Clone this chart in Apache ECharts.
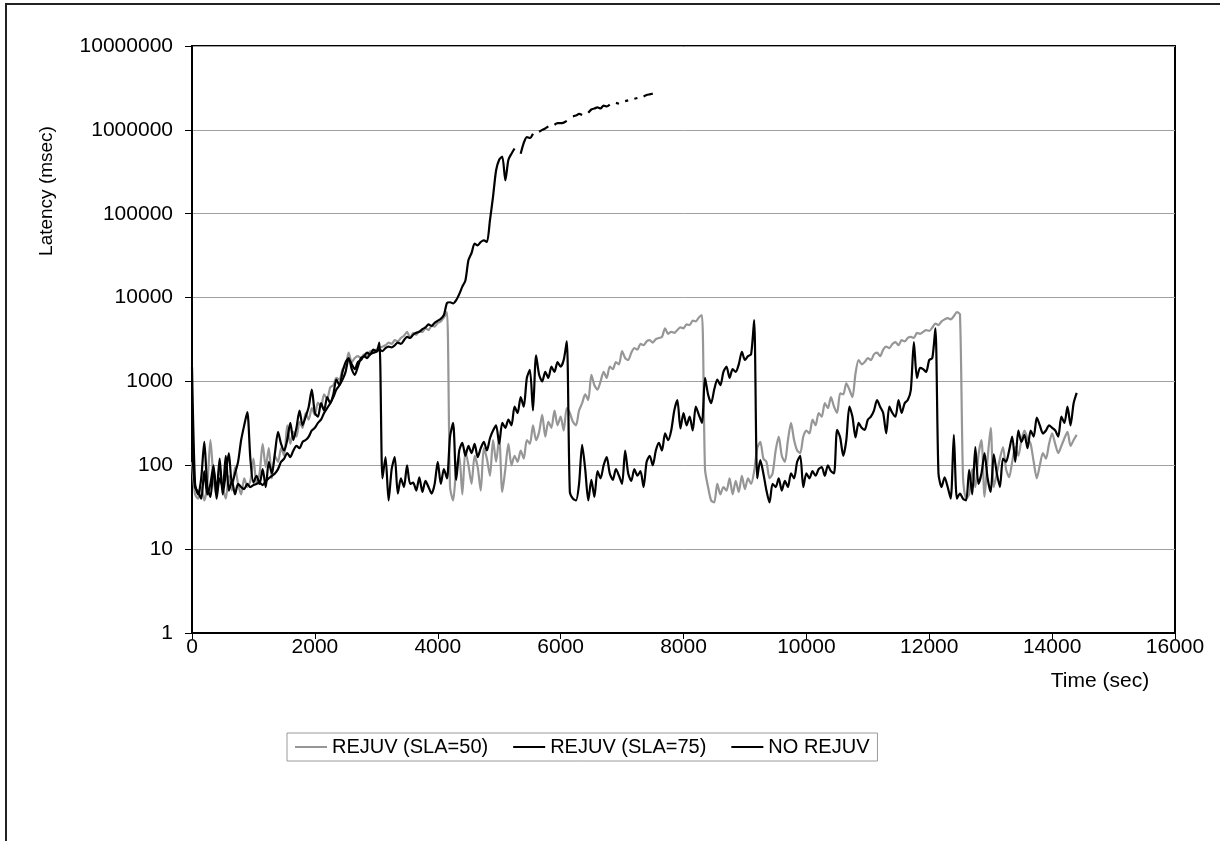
<!DOCTYPE html>
<html>
<head>
<meta charset="utf-8">
<title>Latency (msec)</title>
<script src="https://cdn.jsdelivr.net/npm/echarts@6/dist/echarts.min.js"></script>
<style>
  html, body { margin: 0; padding: 0; background: #fff; }
  #chart { width: 1220px; height: 841px; }
</style>
</head>
<body>
<div id="chart"></div>
<script>
// Latency samples, one value every SAMPLE_STEP seconds starting at t = 0.
const SAMPLE_STEP = 50;

const seriesNames = ['REJUV (SLA=50)', 'REJUV (SLA=75)', 'NO REJUV'];

const xTicks = [0, 2000, 4000, 6000, 8000, 10000, 12000, 14000, 16000];
const yTicks = [1, 10, 100, 1000, 10000, 100000, 1000000, 10000000];

const rejuvSla50 = [
  110, 45, 40, 55, 38, 60, 200, 70, 45, 90,
  55, 40, 75, 50, 95, 60, 45, 70, 55, 65,
  120, 60, 80, 180, 95, 160, 70, 130, 110, 160,
  130, 300, 180, 250, 220, 330, 280, 420, 350, 480,
  400, 560, 500, 700, 620, 850, 900, 1100, 1050, 1400,
  1500, 2200, 1700, 1900, 2000, 1900, 2100, 2000, 2300, 2200,
  2400, 2500, 2600, 2700, 2900, 2800, 3100, 3000, 3300, 3500,
  3900, 3300, 3800, 3600, 4000, 3900, 4300, 4100, 4600, 4500,
  5000, 5200, 5800, 6700, 55, 38, 90, 130, 45, 150,
  100, 60, 130, 95, 50, 160, 120, 75, 200, 110,
  220, 48, 90, 180, 100, 130, 110, 150, 120, 200,
  180, 300, 200, 250, 400, 220, 330, 280, 450, 300,
  380, 260, 480, 420, 330, 300, 450, 550, 700, 600,
  1200, 900, 800, 1000, 1300, 1100, 1500, 1400, 1700, 1600,
  2300, 1900, 1800, 2200, 2500, 2400, 2800, 2700, 3000, 3100,
  2900, 3200, 3300, 3400, 4300, 3700, 3900, 3800, 4100, 4400,
  4300, 4800, 4700, 5300, 5200, 5800, 6200, 90, 55, 38,
  36, 60, 45, 55, 50, 70, 45, 65, 48, 75,
  52, 70, 60, 85, 160, 190, 120, 110, 70, 80,
  150, 220, 130, 110, 200, 320, 200, 150, 140, 220,
  260, 240, 350, 300, 420, 380, 550, 480, 650, 500,
  420, 720, 700, 950, 800, 650, 1250, 1800, 1600, 1700,
  1900, 1800, 2100, 2200, 2000, 2400, 2600, 2500, 2800, 2950,
  2700, 3100, 3000, 3300, 3400, 3300, 3800, 3700, 3900, 4100,
  4000, 4400, 4900, 4700, 5200, 5500, 5700, 5500, 6000, 6700,
  6300, 70, 40, 45, 90, 55, 130, 200, 42, 120,
  280, 55, 80, 120, 165, 90, 72, 110, 165, 130,
  200, 260, 210, 180, 110, 70, 100, 140, 120, 180,
  240, 180, 140, 170, 210, 250, 170, 200, 230
];

const rejuvSla75 = [
  1500, 60, 45, 70, 190, 55, 42, 90, 50, 120,
  45, 80, 140, 60, 80, 110, 200, 300, 430, 120,
  62, 75, 60, 90, 55, 110, 80, 140, 250, 180,
  150, 200, 320, 200, 280, 450, 300, 380, 500, 800,
  420, 380, 550, 450, 650, 550, 700, 1050, 900, 1300,
  1700, 1900, 1400, 1200, 1500, 1900, 2000, 2200, 2100, 2400,
  2300, 2900, 70, 125, 38, 90, 125, 46, 70, 55,
  100, 60, 62, 50, 72, 48, 65, 55, 46, 60,
  110, 60, 90, 70, 220, 320, 67, 150, 185, 130,
  170, 140, 180, 125, 160, 190, 150, 210, 260, 300,
  180, 320, 280, 350, 300, 500, 420, 650, 500, 1100,
  1370, 450, 2050, 1200, 1000, 1300, 1100, 1500, 1300, 1700,
  1500, 1800, 3000, 48, 40, 38, 60, 175, 90, 38,
  67, 42, 85, 70, 100, 125, 80, 67, 90, 75,
  60, 150, 80, 65, 90, 75, 85, 55, 110, 130,
  100, 150, 185, 150, 240, 200, 260, 450, 600, 275,
  420, 300, 380, 260, 500, 400, 320, 1100, 700, 550,
  800, 1050, 900, 1300, 1500, 1100, 1400, 1300, 1600, 2250,
  1800, 2000, 2100, 5400, 70, 115, 80, 50, 36, 60,
  55, 70, 50, 65, 55, 80, 70, 110, 130, 55,
  80, 70, 85, 75, 90, 95, 75, 100, 85, 80,
  265, 215, 130, 200, 500, 380, 215, 320, 280, 265,
  350, 380, 450, 600, 500, 420, 240, 500, 420, 380,
  600, 420, 550, 600, 790, 2950, 1100, 1450, 1400, 1300,
  1800, 1900, 4300, 80, 55, 72, 55, 40, 230, 40,
  46, 40, 38, 88, 45, 165, 60, 80, 140, 70,
  48, 135, 80, 55, 120, 110, 150, 220, 110, 260,
  190, 230, 160, 260, 220, 370, 300, 240, 260, 300,
  280, 260, 220, 380, 320, 500, 300, 550, 730
];

// Missing samples (null) leave gaps in the line once the backlog explodes.
const noRejuv = [
  160, 55, 48, 40, 85, 45, 60, 100, 40, 70,
  55, 130, 50, 65, 45, 60, 55, 52, 60, 55,
  58, 60, 62, 58, 65, 70, 75, 80, 90, 110,
  120, 140, 125, 150, 170, 160, 190, 200, 220, 260,
  280, 320, 350, 420, 480, 550, 650, 800, 900, 1050,
  1300, 1850, 1600, 1400, 1700, 1800, 2000, 1900, 2100, 2200,
  2250, 2400, 2300, 2500, 2600, 2550, 2700, 2900, 2800, 3100,
  3400, 3300, 3600, 3800, 3900, 4200, 4400, 4800, 4600, 5000,
  5300, 5600, 6200, 8600, 8800, 8500, 9300, 11000, 13500, 16000,
  28000, 34000, 44000, 42000, 46000, 48000, 46000, 84000, 160000, 330000,
  440000, 480000, 250000, 440000, 520000, 600000, null, 520000, 700000, 820000,
  800000, 900000, null, 950000, 1000000, 1040000, 1100000, null, 1150000, 1200000,
  1200000, 1220000, 1280000, null, 1450000, 1480000, 1550000, 1500000, null, 1600000,
  1750000, 1800000, 1850000, 1800000, 1950000, 1900000, 2000000, null, 2100000, 2050000,
  null, 2200000, 2250000, null, 2350000, 2400000, null, 2500000, 2600000, 2650000,
  2700000
];

function toPoints(values) {
  return values.map((v, i) => [i * SAMPLE_STEP, v]);
}

const FONT = 'Liberation Sans, Arial, sans-serif';

const chart = echarts.init(document.getElementById('chart'), null, { renderer: 'canvas' });

const lineSeries = (name, values) => ({
  name,
  type: 'line',
  data: toPoints(values),
  symbol: 'none',
  showSymbol: false,
  connectNulls: false,
  smooth: 0.25,
  lineStyle: { width: 2.2 },
  emphasis: { disabled: true },
  animation: false
});

chart.setOption({
  animation: false,
  backgroundColor: '#ffffff',
  color: ['#969696', '#000000', '#000000'],
  textStyle: { fontFamily: FONT, color: '#000' },
  grid: {
    left: 192, right: 45, top: 46, bottom: 208,
    containLabel: false,
    show: true,
    borderColor: '#000',
    borderWidth: 2,
    backgroundColor: 'transparent'
  },
  xAxis: {
    type: 'value',
    min: xTicks[0],
    max: xTicks[xTicks.length - 1],
    interval: xTicks[1] - xTicks[0],
    axisLine: { show: true, lineStyle: { color: '#000', width: 2 } },
    axisTick: { show: true, inside: false, length: 6, lineStyle: { color: '#000', width: 1 } },
    axisLabel: {
      fontSize: 21, color: '#000', fontFamily: FONT, margin: 4,
      formatter: v => String(v)
    },
    splitLine: { show: false }
  },
  yAxis: {
    type: 'log',
    logBase: 10,
    min: yTicks[0],
    max: yTicks[yTicks.length - 1],
    axisLine: { show: true, lineStyle: { color: '#000', width: 2 } },
    axisTick: { show: true, inside: false, length: 7, lineStyle: { color: '#000', width: 1 } },
    axisLabel: {
      fontSize: 21, color: '#000', fontFamily: FONT, margin: 19,
      formatter: v => String(Math.round(v))
    },
    splitLine: { show: true, lineStyle: { color: '#a0a0a0', width: 1 } },
    minorTick: { show: false },
    minorSplitLine: { show: false }
  },
  legend: {
    data: seriesNames,
    left: 287,
    top: 733,
    orient: 'horizontal',
    icon: 'path://M0,0 L32,0 L32,2 L0,2 Z',
    itemWidth: 32,
    itemHeight: 2,
    itemGap: 25,
    padding: [4, 8],
    borderColor: '#9a9a9a',
    borderWidth: 1,
    backgroundColor: '#fff',
    selectedMode: false,
    textStyle: { fontSize: 20, color: '#000', fontFamily: FONT }
  },
  graphic: [
    {
      type: 'rect',
      silent: true,
      shape: { x: 6, y: 4, width: 1400, height: 1000 },
      style: { fill: 'none', stroke: '#222', lineWidth: 2 }
    },
    {
      type: 'text',
      silent: true,
      x: 47, y: 191,
      rotation: Math.PI / 2,
      style: {
        text: 'Latency (msec)', fontSize: 19, fontFamily: FONT, fill: '#000',
        align: 'center', verticalAlign: 'middle'
      }
    },
    {
      type: 'text',
      silent: true,
      x: 1100, y: 681,
      style: {
        text: 'Time (sec)', fontSize: 21, fontFamily: FONT, fill: '#000',
        align: 'center', verticalAlign: 'middle'
      }
    }
  ],
  series: [
    lineSeries(seriesNames[0], rejuvSla50),
    lineSeries(seriesNames[1], rejuvSla75),
    lineSeries(seriesNames[2], noRejuv)
  ]
});
</script>
</body>
</html>
